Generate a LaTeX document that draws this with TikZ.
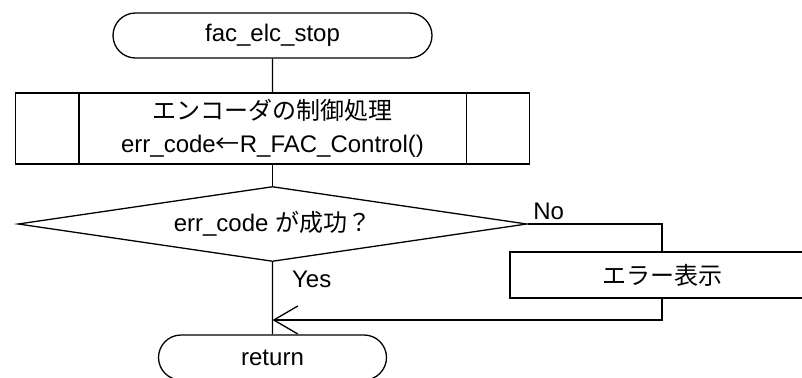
\documentclass[tikz,border=0pt]{standalone}
\usepackage{fontspec}
\setmainfont{Liberation Sans}
\newfontfamily\jpfont{Noto Sans CJK JP}
\usetikzlibrary{arrows.meta,shapes.geometric,shapes.misc,positioning}

\begin{document}
\begin{tikzpicture}[x=1pt,y=1pt,line width=1.3pt,font=\fontsize{24}{33}\selectfont]
\tikzstyle{term}=[draw,rounded rectangle,minimum width=319pt,minimum height=45pt,inner sep=0pt]
\tikzstyle{subr}=[draw,rectangle,minimum width=514pt,minimum height=71pt,inner sep=0pt,align=center]
\tikzstyle{cond}=[draw,diamond,aspect=6.8,minimum width=509pt,minimum height=75pt,inner sep=0pt]
\tikzstyle{proc}=[draw,rectangle,minimum width=304pt,minimum height=46pt,inner sep=0pt]
\tikzstyle{lbl}=[inner sep=0pt]

\useasboundingbox (0,0) rectangle (802,-377);

\node[term]  (start) at (272.5,-35.5) {fac\_elc\_stop};
\node[subr]  (ctl) [below of=start,node distance=93pt] {{\jpfont エンコーダの制御処理}\\err\_code{\jpfont ←}R\_FAC\_Control()};
\node[cond]  (chk) [below of=ctl,node distance=95.5pt] {err\_code {\jpfont が成功？}};
\node[proc]  (err) [right of=chk,node distance=389.5pt,yshift=-51pt] {\jpfont エラー表示};
\node[term,minimum width=228pt] (ret) [below of=chk,node distance=133.5pt] {return};

% side bars of the subroutine box
\draw ([xshift=64pt]ctl.north west) -- ([xshift=64pt]ctl.south west);
\draw ([xshift=-64pt]ctl.north east) -- ([xshift=-64pt]ctl.south east);

\coordinate (noturn) at (err.north |- chk.east);
\coordinate (back) at ([yshift=-45pt]err.center);
\coordinate (join) at (chk.south |- back);

\draw (start) -- (ctl);
\draw (ctl) -- (chk);
\draw (chk.east) -- node[lbl,anchor=south west,pos=0,xshift=5pt,yshift=4pt] {No} (noturn) -- (err);
\draw (chk.south) -- node[lbl,anchor=west,pos=0.24,xshift=19pt] {Yes} (ret);
\draw[-{Straight Barb[length=24pt,width=28pt]}] (err) -- (back) -- (join);
\end{tikzpicture}
\end{document}
